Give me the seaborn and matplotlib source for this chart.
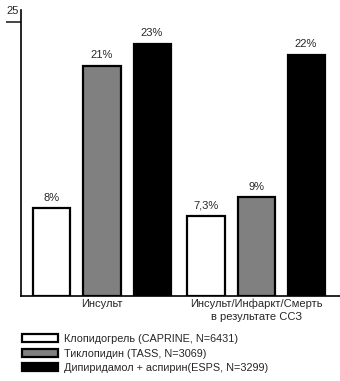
import matplotlib
matplotlib.use("Agg")
import matplotlib.pyplot as plt
import seaborn as sns
import pandas as pd
from matplotlib.patches import Patch
from matplotlib.transforms import offset_copy

categories = ["Инсульт", "Инсульт/Инфаркт/Смерть\nв результате ССЗ"]
series = ["Клопидогрель (CAPRINE, N=6431)",
          "Тиклопидин (TASS, N=3069)",
          "Дипиридамол + аспирин(ESPS, N=3299)"]
values = {
    series[0]: [8, 7.3],
    series[1]: [21, 9],
    series[2]: [23, 22],
}
colors = ["#ffffff", "#808080", "#000000"]

rows = []
for s in series:
    for c, v in zip(categories, values[s]):
        rows.append({"cat": c, "series": s, "val": v})
df = pd.DataFrame(rows)

sns.set_style("white")
plt.rcParams["font.family"] = ["Liberation Sans", "DejaVu Sans"]
plt.rcParams["font.size"] = 8

fig = plt.figure(figsize=(3.4, 3.81), dpi=100)
ax = fig.add_axes([21/340, 1-296/381, 1-21/340, (296-10)/381])

sns.barplot(data=df, x="cat", y="val", hue="series", order=categories,
            hue_order=series, palette=colors, edgecolor="black",
            linewidth=1.6, width=0.975, gap=0.26, ax=ax, legend=False,
            saturation=1)

for cont, s in zip(ax.containers, series):
    labs = [(f"{v:g}%").replace(".", ",") for v in values[s]]
    ax.bar_label(cont, labels=labs, padding=4, fontsize=8)

ax.set_xlim(-0.526, 1.545)
ax.set_ylim(0, 26.1)
ax.set_yticks([25])
ax.set_yticklabels([""])
ax.tick_params(axis="y", direction="out", length=11, width=1.2, left=True)
ax.tick_params(axis="x", length=0, pad=2, labelsize=8)
for lbl in ax.get_xticklabels():
    lbl.set_linespacing(1.3)
tr = offset_copy(ax.get_yaxis_transform(), fig=fig, x=-1.5, y=4, units="points")
ax.text(0, 25, "25", transform=tr, ha="right", va="bottom", fontsize=8)
ax.set_xlabel("")
ax.set_ylabel("")
for sp in ["top", "right"]:
    ax.spines[sp].set_visible(False)
for sp in ["left", "bottom"]:
    ax.spines[sp].set_color("black")
    ax.spines[sp].set_linewidth(1.2)

handles = [Patch(facecolor=c, edgecolor="black", linewidth=1.6) for c in colors]
fig.legend(handles, series, loc="upper left",
           bbox_to_anchor=(22/340, 1-334/381), frameon=False,
           borderpad=0, borderaxespad=0, handlelength=3.3, handleheight=0.72,
           handletextpad=0.55, labelspacing=0.42, fontsize=7.8)

fig.savefig("out.png", dpi=100)
